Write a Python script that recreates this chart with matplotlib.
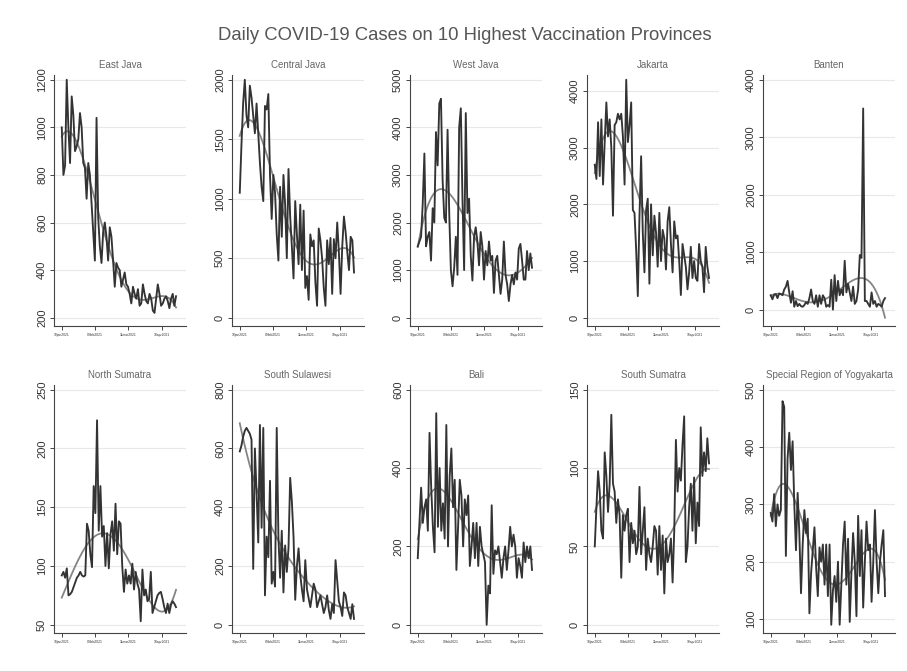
import numpy as np
import pandas as pd
import matplotlib
matplotlib.use("Agg")
import matplotlib.pyplot as plt

plt.rcParams['font.family'] = ['Liberation Sans', 'DejaVu Sans']

# daily cases (sampled roughly every 1.5 days, 10 Jan - 23 Apr 2021)
east_java = [1000, 800, 840, 1200, 1000, 850, 1130, 1050, 900, 920, 950, 1060, 1000, 850,
             830, 700, 850, 800, 680, 560, 440, 1040, 620, 500, 430, 560, 600, 540, 440,
             580, 540, 440, 330, 430, 410, 400, 330, 360, 390, 340, 330, 300, 260, 330,
             300, 280, 320, 250, 260, 340, 300, 270, 260, 300, 280, 230, 220, 280, 340,
             300, 250, 260, 280, 290, 270, 240, 280, 300, 250, 290]
central_java = [1050, 1450, 1800, 2000, 1700, 1600, 1950, 1850, 1700, 1550, 1800, 1550, 1300,
                1100, 980, 1780, 1750, 1880, 1200, 830, 1200, 1050, 700, 480, 1100, 680, 1200,
                950, 500, 1250, 850, 600, 330, 980, 700, 450, 950, 400, 900, 250, 350, 150,
                700, 600, 650, 300, 100, 750, 650, 500, 250, 100, 650, 450, 670, 200, 660,
                500, 800, 550, 200, 600, 850, 720, 550, 400, 680, 650, 380]
west_java = [1500, 1600, 1700, 2400, 3450, 1500, 1700, 1800, 1200, 2300, 2000, 3900, 3200,
             4500, 4600, 2900, 2100, 2000, 3950, 2200, 1000, 660, 1050, 1700, 900, 4000, 4400,
             2500, 1000, 4300, 2200, 2500, 1300, 780, 1700, 1900, 1600, 1100, 1800, 1500, 800,
             1400, 1100, 1600, 1200, 1300, 520, 1200, 1300, 900, 500, 800, 1600, 900, 700,
             350, 700, 900, 700, 950, 800, 1450, 1550, 1200, 800, 800, 1400, 1000, 1350, 1050]
jakarta = [2700, 2450, 3450, 2500, 3500, 2350, 3100, 3800, 3200, 3500, 3000, 1800, 3400, 3450,
           3600, 3500, 3600, 3200, 2350, 4200, 3100, 3400, 3800, 1900, 1850, 1200, 380, 1800,
           2850, 1500, 800, 1900, 2100, 600, 2000, 1100, 1800, 1500, 900, 1850, 1000, 1550,
           1400, 850, 1700, 1950, 1300, 800, 1700, 1400, 1450, 1000, 400, 1300, 1100, 900,
           500, 800, 1250, 700, 1000, 700, 650, 1300, 1000, 900, 450, 1250, 900, 700]
banten = [250, 180, 260, 270, 200, 280, 270, 250, 350, 400, 500, 300, 120, 320, 50, 150, 60,
          100, 60, 50, 80, 130, 100, 200, 350, 150, 100, 250, 50, 250, 100, 250, 200, 50, 80,
          50, 520, 0, 600, 150, 500, 250, 350, 250, 850, 300, 450, 300, 150, 400, 100, 150,
          350, 950, 900, 3500, 150, 150, 100, 50, 300, 100, 150, 50, 100, 80, 50, 150, 200]
north_sumatra = [92, 95, 90, 98, 75, 76, 78, 82, 86, 90, 92, 95, 92, 91, 92, 136, 130, 110, 99,
                 168, 145, 224, 130, 168, 125, 134, 100, 128, 98, 127, 138, 113, 153, 110, 138,
                 136, 100, 78, 97, 85, 92, 85, 102, 80, 95, 85, 80, 53, 97, 75, 80, 70, 72, 95,
                 60, 65, 70, 75, 77, 78, 72, 65, 60, 68, 60, 67, 70, 68, 65]
south_sulawesi = [590, 610, 640, 660, 670, 660, 650, 630, 190, 600, 450, 280, 680, 330, 670,
                  100, 300, 230, 490, 140, 180, 130, 670, 300, 160, 320, 110, 270, 180, 260,
                  500, 420, 300, 85, 200, 260, 170, 120, 80, 220, 120, 90, 60, 100, 140, 120,
                  60, 80, 100, 70, 40, 60, 100, 50, 20, 70, 40, 220, 150, 80, 60, 30, 110, 100,
                  60, 40, 20, 70, 20]
bali = [170, 260, 350, 260, 300, 320, 240, 490, 350, 250, 185, 540, 250, 400, 240, 310, 220,
        510, 200, 380, 450, 300, 370, 140, 250, 370, 330, 200, 320, 280, 330, 150, 200, 260,
        170, 260, 150, 250, 200, 180, 160, 0, 100, 80, 305, 130, 190, 180, 200, 160, 120, 170,
        200, 140, 190, 250, 200, 230, 200, 120, 170, 150, 120, 210, 160, 200, 170, 200, 140]
south_sumatra = [50, 75, 98, 85, 60, 55, 110, 95, 72, 90, 134, 90, 85, 65, 80, 70, 30, 70, 60,
                 70, 74, 40, 65, 52, 60, 45, 50, 88, 45, 60, 75, 35, 55, 45, 40, 50, 63, 60, 32,
                 63, 35, 57, 20, 55, 40, 45, 55, 27, 60, 118, 85, 100, 92, 115, 133, 40, 50, 75,
                 90, 60, 94, 52, 78, 63, 126, 95, 110, 98, 119, 103]
yogyakarta = [285, 270, 318, 262, 300, 280, 290, 480, 470, 210, 380, 425, 360, 410, 300, 220,
              320, 250, 145, 230, 290, 250, 275, 110, 180, 220, 260, 190, 140, 225, 200, 230,
              160, 230, 140, 230, 90, 150, 175, 130, 200, 90, 160, 230, 270, 160, 240, 95, 180,
              250, 200, 105, 280, 175, 255, 120, 200, 270, 220, 230, 130, 200, 290, 200, 145,
              200, 230, 255, 140]

provinces = ["East Java", "Central Java", "West Java", "Jakarta", "Banten",
             "North Sumatra", "South Sulawesi", "Bali", "South Sumatra",
             "Special Region of Yogyakarta"]
series = [east_java, central_java, west_java, jakarta, banten,
          north_sumatra, south_sulawesi, bali, south_sumatra, yogyakarta]
yticks = [range(200, 1201, 200), range(0, 2001, 500), range(0, 5001, 1000),
          range(0, 4001, 1000), range(0, 4001, 1000), range(50, 251, 50),
          range(0, 801, 200), range(0, 601, 200), range(0, 151, 50), range(100, 501, 100)]

start, end = pd.Timestamp("2021-01-10"), pd.Timestamp("2021-04-23")
xticks = pd.to_datetime(["2021-01-10", "2021-02-09", "2021-03-11", "2021-04-10"])

W, H = 907, 671
fig = plt.figure(figsize=(W / 100, H / 100), dpi=100)
fig.text(465 / W, 1 - 35 / H, "Daily COVID-19 Cases on 10 Highest Vaccination Provinces",
         ha="center", va="center", fontsize=13.3, color="#555555")

lefts = [54, 232, 410, 587, 763]
rows = [(75, 326), (385, 633)]
pw = 132

for i, (name, vals) in enumerate(zip(provinces, series)):
    r, c = divmod(i, 5)
    top, bot = rows[r]
    ax = fig.add_axes([lefts[c] / W, 1 - bot / H, pw / W, (bot - top) / H])
    vals = np.array(vals, dtype=float)
    dates = pd.date_range(start, end, periods=len(vals))
    days = (dates - start).days.values + (dates - start).seconds.values / 86400
    # 4th-degree polynomial trend through the daily values
    fit = np.polyval(np.polyfit(days, vals, 4), days)

    ax.plot(dates, vals, color="#333333", lw=1.35, zorder=3)
    ax.plot(dates, fit, color="#858585", lw=1.3, zorder=2)

    ticks = list(yticks[i])
    lo = min(ticks[0], vals.min(), fit.min())
    hi = max(ticks[-1], vals.max(), fit.max())
    span = hi - lo
    ax.set_ylim(lo - 0.035 * span, hi + 0.02 * span)
    ax.set_xlim(start - pd.Timedelta(days=7), end + pd.Timedelta(days=9))
    ax.set_yticks(ticks)
    ax.set_yticklabels([str(t) for t in ticks], rotation=90, va="center",
                       fontsize=8, color="#333333")
    ax.set_xticks(xticks)
    ax.set_xticklabels([d.strftime("%d%b%Y").lower() for d in xticks],
                       fontsize=2.4, color="#333333")
    ax.tick_params(axis="both", direction="out", length=3, width=0.7, color="#444444", pad=2)
    ax.grid(axis="y", color="#e8e8e8", lw=0.8, zorder=0)
    ax.set_axisbelow(True)
    for s in ["top", "right"]:
        ax.spines[s].set_visible(False)
    for s in ["left", "bottom"]:
        ax.spines[s].set_color("#444444")
        ax.spines[s].set_linewidth(0.8)
    ax.set_title(name, fontsize=7, color="#666666", pad=5)

fig.savefig("out.png", dpi=100, facecolor="white")
